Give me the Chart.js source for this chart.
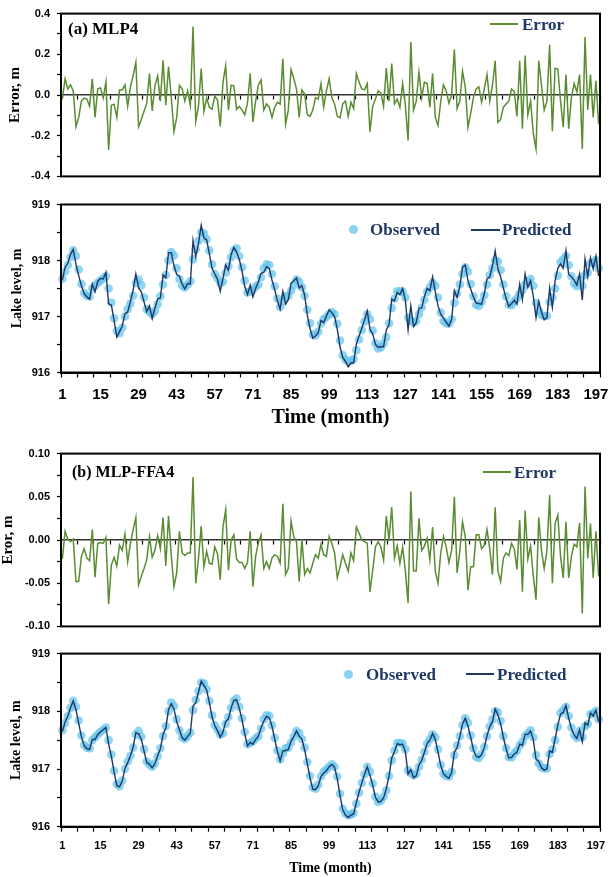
<!DOCTYPE html>
<html><head><meta charset="utf-8">
<script src="https://cdn.jsdelivr.net/npm/chart.js@4.4.1/dist/chart.umd.min.js"></script>
<style>
html,body{margin:0;padding:0;background:#fff;}
body{width:610px;height:877px;position:relative;overflow:hidden;}
canvas{position:absolute;left:0;}
.t{position:absolute;font-family:'Liberation Serif','Times New Roman',serif;font-weight:bold;white-space:nowrap;line-height:1;color:#000;}
.navy{color:#1f3864;}
.ln{position:absolute;height:2px;}
.dot{position:absolute;width:9px;height:9px;border-radius:50%;background:rgba(100,195,235,0.75);}
</style></head><body>
<canvas id="c1" width="610" height="190" style="top:0px"></canvas>
<canvas id="c2" width="610" height="250" style="top:190px"></canvas>
<canvas id="c3" width="610" height="200" style="top:440px"></canvas>
<canvas id="c4" width="610" height="237" style="top:640px"></canvas>

<div class="t" style="left:68px;top:19.5px;font-size:17px;">(a) MLP4</div>
<div class="ln" style="left:490px;top:23px;width:28px;background:#5a8c32;"></div>
<div class="t navy" style="left:522px;top:15.5px;font-size:17px;">Error</div>
<div class="dot" style="left:349px;top:225px;"></div>
<div class="t navy" style="left:370px;top:221px;font-size:17px;">Observed</div>
<div class="ln" style="left:471px;top:228.5px;width:29px;background:#1f3864;"></div>
<div class="t navy" style="left:502px;top:221px;font-size:17px;">Predicted</div>

<div class="t" style="left:72px;top:464px;font-size:16px;">(b) MLP-FFA4</div>
<div class="ln" style="left:483px;top:471px;width:28px;background:#5a8c32;"></div>
<div class="t navy" style="left:514px;top:464px;font-size:17px;">Error</div>
<div class="dot" style="left:344px;top:669.5px;"></div>
<div class="t navy" style="left:366px;top:665.5px;font-size:17px;">Observed</div>
<div class="ln" style="left:466px;top:673px;width:28px;background:#1f3864;"></div>
<div class="t navy" style="left:497px;top:665.5px;font-size:17px;">Predicted</div>

<script>
// ---------- DATA ----------
const MONTHS = Array.from({length: 198}, (_, i) => String(i + 1));
const X_TICK_LABELS = ['1','15','29','43','57','71','85','99','113','127','141','155','169','183','197'];
const LAKE_TICKS = [916, 917, 918, 919];
const ERR_A_TICKS = [-0.4, -0.2, 0.0, 0.2, 0.4];
const ERR_B_TICKS = [-0.10, -0.05, 0.00, 0.05, 0.10];

const OBSERVED = [
917.67,917.80,917.92,918.06,918.18,918.08,917.84,917.58,917.42,917.37,
917.36,917.50,917.55,917.60,917.64,917.68,917.72,917.50,917.25,916.97,
916.74,916.70,916.80,917.00,917.13,917.23,917.37,917.60,917.66,917.56,
917.34,917.13,917.08,917.04,917.10,917.22,917.36,917.57,917.74,918.00,
918.15,918.09,917.86,917.67,917.55,917.52,917.57,917.63,918.02,918.20,
918.35,918.50,918.48,918.38,918.18,917.93,917.76,917.68,917.60,917.62,
917.78,917.90,918.06,918.18,918.22,918.08,917.88,917.64,917.43,917.45,
917.48,917.53,917.57,917.70,917.86,917.93,917.92,917.76,917.54,917.32,
917.17,917.27,917.36,917.37,917.46,917.56,917.66,917.62,917.52,917.37,
917.12,916.88,916.68,916.66,916.73,916.87,916.95,916.99,917.04,917.08,
917.04,916.87,916.57,916.31,916.23,916.20,916.21,916.24,916.40,916.59,
916.76,916.91,917.04,916.95,916.75,916.52,916.43,916.45,916.52,916.63,
916.88,917.15,917.32,917.45,917.45,917.44,917.34,916.98,916.93,916.89,
916.92,917.04,917.16,917.30,917.44,917.52,917.60,917.55,917.34,917.07,
916.92,916.88,916.87,916.95,917.24,917.41,917.57,917.76,917.88,917.80,
917.58,917.36,917.21,917.19,917.26,917.38,917.57,917.74,917.86,918.00,
917.98,917.83,917.57,917.36,917.21,917.20,917.27,917.32,917.41,917.47,
917.57,917.62,917.67,917.55,917.24,917.10,917.03,917.01,917.01,917.26,
917.34,917.50,917.73,917.97,918.02,918.08,917.92,917.72,917.59,917.54,
917.66,917.55,917.74,917.78,917.95,917.96,918.01,917.86];

const PREDICTED_A = [
917.65,917.88,917.95,918.11,918.20,917.93,917.73,917.55,917.41,917.35,
917.31,917.58,917.44,917.63,917.68,917.67,917.79,917.23,917.20,916.93,
916.63,916.73,916.83,917.05,917.08,917.27,917.47,917.76,917.51,917.44,
917.26,917.09,917.19,916.96,917.15,917.31,917.33,917.74,917.69,918.14,
918.14,917.91,917.75,917.72,917.58,917.49,917.59,917.58,918.36,918.07,
918.30,918.63,918.40,918.37,918.12,917.86,917.76,917.66,917.45,917.68,
917.92,917.83,918.11,918.23,918.15,918.02,917.81,917.54,917.39,917.56,
917.35,917.50,917.62,917.77,917.79,917.89,917.86,917.65,917.48,917.28,
917.13,917.45,917.22,917.30,917.59,917.64,917.69,917.51,917.55,917.38,
917.02,916.78,916.61,916.65,916.71,916.93,916.89,917.01,917.12,917.07,
917.00,916.77,916.46,916.27,916.20,916.10,916.17,916.17,916.51,916.65,
916.79,916.94,917.10,916.77,916.69,916.50,916.45,916.46,916.46,916.76,
916.85,917.31,917.28,917.43,917.39,917.50,917.29,916.76,917.19,916.82,
916.89,917.15,917.15,917.36,917.50,917.46,917.71,917.44,917.19,917.04,
916.97,916.90,916.83,916.95,917.46,917.34,917.54,917.88,917.92,917.64,
917.49,917.35,917.24,917.23,917.22,917.41,917.67,917.71,917.91,918.17,
917.85,917.71,917.51,917.32,917.18,917.23,917.29,917.22,917.58,917.30,
917.76,917.52,917.64,917.36,916.98,917.27,917.08,916.94,916.98,917.51,
917.16,917.63,917.86,917.94,917.86,918.18,917.75,917.71,917.65,917.56,
917.76,917.29,918.03,917.71,918.05,917.85,918.08,917.72];

const PREDICTED_B = [
917.65,917.81,917.92,918.06,918.18,918.03,917.79,917.56,917.41,917.35,
917.34,917.51,917.51,917.60,917.64,917.68,917.72,917.43,917.22,916.95,
916.71,916.69,916.79,917.01,917.11,917.23,917.38,917.63,917.61,917.52,
917.31,917.11,917.08,917.02,917.09,917.23,917.35,917.60,917.71,918.03,
918.13,918.04,917.82,917.68,917.54,917.50,917.56,917.62,918.09,918.15,
918.33,918.52,918.45,918.37,918.15,917.90,917.75,917.66,917.55,917.64,
917.82,917.87,918.06,918.19,918.20,918.05,917.85,917.61,917.40,917.46,
917.43,917.51,917.57,917.71,917.83,917.91,917.89,917.74,917.52,917.30,
917.14,917.31,917.32,917.34,917.48,917.56,917.66,917.57,917.52,917.33,
917.09,916.84,916.65,916.64,916.71,916.87,916.93,916.97,917.04,917.08,
917.03,916.83,916.54,916.29,916.20,916.16,916.20,916.22,916.42,916.60,
916.76,916.91,917.04,916.89,916.72,916.51,916.43,916.44,916.50,916.66,
916.88,917.19,917.30,917.44,917.42,917.43,917.30,916.91,916.99,916.85,
916.88,917.07,917.15,917.29,917.44,917.50,917.62,917.51,917.29,917.06,
916.92,916.87,916.84,916.94,917.29,917.37,917.56,917.78,917.88,917.74,
917.55,917.33,917.22,917.20,917.25,917.37,917.58,917.73,917.82,918.04,
917.94,917.78,917.55,917.35,917.19,917.20,917.26,917.29,917.43,917.41,
917.60,917.60,917.66,917.51,917.17,917.13,917.02,916.98,917.00,917.31,
917.29,917.52,917.76,917.95,917.98,918.10,917.88,917.70,917.59,917.53,
917.68,917.47,917.80,917.76,917.97,917.92,918.02,917.82];

const ERROR_A = [
-0.02,0.08,0.03,0.05,0.02,-0.155,-0.11,-0.03,-0.015,-0.02,
-0.055,0.08,-0.11,0.03,0.035,-0.015,0.065,-0.27,-0.05,-0.045,
-0.11,0.025,0.025,0.05,-0.055,0.04,0.095,0.16,-0.155,-0.12,
-0.08,-0.04,0.105,-0.078,0.045,0.093,-0.03,0.17,-0.05,0.14,
-0.01,-0.18,-0.11,0.047,0.03,-0.03,0.02,-0.05,0.336,-0.13,
-0.055,0.13,-0.08,-0.015,-0.06,-0.07,-0.005,-0.025,-0.155,0.063,
0.143,-0.074,0.048,0.045,-0.07,-0.056,-0.074,-0.097,-0.04,0.106,
-0.132,-0.03,0.048,0.074,-0.074,-0.044,-0.06,-0.11,-0.06,-0.036,
-0.044,0.178,-0.143,-0.074,0.125,0.082,0.03,-0.11,0.025,0.005,
-0.097,-0.105,-0.074,-0.013,-0.02,0.056,-0.06,0.02,0.08,-0.013,
-0.044,-0.105,-0.112,-0.044,-0.03,-0.105,-0.036,-0.066,0.105,0.063,
0.03,0.025,0.056,-0.18,-0.056,-0.02,0.02,0.01,-0.056,0.132,
-0.03,0.155,-0.044,-0.02,-0.06,0.056,-0.05,-0.224,0.26,-0.074,
-0.03,0.112,-0.013,0.063,0.056,-0.06,0.106,-0.11,-0.15,-0.03,
0.05,0.02,-0.04,0.0,0.224,-0.066,-0.03,0.117,0.04,-0.158,
-0.09,-0.013,0.03,0.04,-0.036,0.03,0.1,-0.03,0.048,0.168,
-0.135,-0.12,-0.06,-0.044,-0.03,0.03,0.017,-0.105,0.168,-0.166,
0.194,-0.097,-0.03,-0.19,-0.265,0.168,0.048,-0.074,-0.03,0.247,
-0.178,0.132,0.128,-0.03,-0.158,0.1,-0.166,-0.013,0.056,0.015,
0.1,-0.265,0.285,-0.074,0.1,-0.11,0.07,-0.143];

const ERROR_B = [
-0.022,0.01,0.001,-0.002,0.001,-0.048,-0.048,-0.019,-0.01,-0.021,
-0.024,0.012,-0.043,-0.004,-0.003,-0.004,0.003,-0.074,-0.029,-0.02,
-0.03,-0.006,-0.012,0.007,-0.025,-0.004,0.012,0.026,-0.052,-0.042,
-0.033,-0.023,0.004,-0.02,-0.012,0.005,-0.01,0.026,-0.03,0.028,
-0.017,-0.054,-0.038,0.01,-0.015,-0.018,-0.015,-0.015,0.073,-0.05,
-0.022,0.016,-0.031,-0.013,-0.027,-0.028,-0.008,-0.016,-0.046,0.015,
0.035,-0.035,0,0.006,-0.022,-0.026,-0.026,-0.033,-0.026,0.01,
-0.054,-0.019,-0.003,0.006,-0.033,-0.025,-0.033,-0.021,-0.017,-0.019,
-0.027,0.042,-0.04,-0.033,0.022,0.004,-0.002,-0.048,0.001,-0.04,
-0.033,-0.038,-0.027,-0.017,-0.021,-0.005,-0.017,-0.019,0.004,-0.004,
-0.015,-0.044,-0.031,-0.017,-0.027,-0.036,-0.015,-0.024,0.015,0.008,
0,-0.002,-0.004,-0.06,-0.035,-0.008,-0.002,-0.008,-0.023,0.028,
0,0.038,-0.021,-0.007,-0.027,-0.008,-0.036,-0.073,0.056,-0.036,
-0.036,0.025,-0.012,-0.007,0.002,-0.023,0.015,-0.036,-0.05,-0.015,
0.004,-0.008,-0.026,-0.012,0.05,-0.038,-0.013,0.021,0.004,-0.058,
-0.031,-0.031,0.006,0.006,-0.01,-0.006,0.012,-0.01,-0.04,0.038,
-0.036,-0.048,-0.021,-0.015,-0.018,-0.004,-0.01,-0.034,0.023,-0.06,
0.034,-0.022,-0.007,-0.042,-0.069,0.026,-0.012,-0.033,-0.013,0.052,
-0.05,0.019,0.029,-0.019,-0.044,0.021,-0.044,-0.019,-0.005,-0.008,
0.02,-0.085,0.062,-0.021,0.019,-0.044,0.01,-0.042];

// ---------- STYLE ----------
const GREEN = '#5a8c32';
const NAVY = '#1f3864';
const BLUE = 'rgba(100,195,235,0.72)';
const SANS = "'Liberation Sans', Arial, sans-serif";
const SERIF = "'Liberation Serif', 'Times New Roman', serif";

Chart.defaults.font.family = SANS;
Chart.defaults.font.weight = 'bold';
Chart.defaults.color = '#000';

const boxPlugin = {
  id: 'box',
  afterDatasetsDraw(chart) {
    const {ctx, chartArea: a} = chart;
    ctx.save();
    ctx.strokeStyle = '#000';
    ctx.lineWidth = 2;
    ctx.strokeRect(a.left, a.top, a.right - a.left, a.bottom - a.top);
    ctx.restore();
  }
};

const markColor = c => (c.index === undefined || c.index % 6 === 0) ? '#000' : 'rgba(0,0,0,0)';

function isTick(v, list) {
  return list.some(t => Math.abs(t - v) < 1e-6);
}

function yAxis(min, max, step, list, digits, title, titleSize, titlePad) {
  return {
    min, max,
    afterFit: s => { s.width = 61; },
    ticks: {
      stepSize: step, padding: 7, color: '#000',
      font: {family: SANS, size: 11, weight: 'bold'},
      callback: v => isTick(v, list) ? Number(v).toFixed(digits) : ''
    },
    grid: {drawOnChartArea: false, tickLength: 4, tickWidth: 1.2, tickColor: '#000'},
    border: {color: '#000', width: 2},
    title: {display: true, text: title, color: '#000',
      font: {family: SERIF, size: titleSize, weight: 'bold', lineHeight: 1},
      padding: {top: titlePad, bottom: 0}}
  };
}

function errorChart(id, values, min, max, step, list, digits, title, titlePad, pad) {
  return new Chart(document.getElementById(id), {
    type: 'line',
    data: {labels: MONTHS, datasets: [{label: 'Error', data: values, borderColor: GREEN,
      borderWidth: 1.5, pointRadius: 0, tension: 0, fill: false}]},
    options: {
      responsive: false, animation: false, devicePixelRatio: 1,
      layout: {padding: pad},
      plugins: {legend: {display: false}, tooltip: {enabled: false}},
      scales: {
        x: {type: 'category', offset: true, position: {y: 0},
          grid: {offset: true, drawOnChartArea: false, drawTicks: true, tickLength: 4, tickWidth: 1.2, tickColor: markColor},
          border: {display: true, color: '#333', width: 1.5},
          ticks: {autoSkip: false, maxRotation: 0, minRotation: 0, callback: () => '', font: {size: 1}}},
        y: yAxis(min, max, step, list, digits, title, 15, titlePad)
      }
    },
    plugins: [boxPlugin]
  });
}

function lakeChart(id, predicted, pad, xHeight, tickFont, tickPad, titleFont, titleBottom, yTitlePad) {
  return new Chart(document.getElementById(id), {
    type: 'line',
    data: {labels: MONTHS, datasets: [
      {label: 'Predicted', data: predicted, borderColor: NAVY, borderWidth: 1.4,
        pointRadius: 0, tension: 0, fill: false, order: 0},
      {label: 'Observed', data: OBSERVED, showLine: false, pointRadius: 4.3,
        pointBackgroundColor: BLUE, pointBorderWidth: 0, borderColor: 'rgba(0,0,0,0)', order: 1, clip: false}
    ]},
    options: {
      responsive: false, animation: false, devicePixelRatio: 1,
      layout: {padding: pad},
      plugins: {legend: {display: false}, tooltip: {enabled: false}},
      scales: {
        x: {type: 'category', offset: true, position: 'bottom',
          afterFit: s => { s.height = xHeight; },
          grid: {offset: true, drawOnChartArea: false, tickLength: 5, tickWidth: 1.2, tickColor: markColor},
          border: {color: '#000', width: 2},
          ticks: {autoSkip: false, maxRotation: 0, minRotation: 0, padding: tickPad, color: '#000',
            font: {family: SANS, size: tickFont, weight: 'bold'},
            callback: (v, i) => X_TICK_LABELS.includes(MONTHS[i]) ? MONTHS[i] : ''},
          title: {display: true, text: 'Time (month)', color: '#000',
            font: {family: SERIF, size: titleFont, weight: 'bold', lineHeight: 1},
            padding: {top: 0, bottom: titleBottom}}},
        y: yAxis(916, 919, 0.5, LAKE_TICKS, 0, 'Lake level, m', 14, yTitlePad)
      }
    },
    plugins: [boxPlugin]
  });
}

errorChart('c1', ERROR_A, -0.4, 0.4, 0.1, ERR_A_TICKS, 1, 'Error, m', 8, {top: 7, right: 10, bottom: 9, left: 0});
lakeChart('c2', PREDICTED_A, {top: 14.5, right: 10, bottom: 0, left: 0}, 67.5, 15, 8, 20, 12.5, 10);
errorChart('c3', ERROR_B, -0.1, 0.1, 0.025, ERR_B_TICKS, 2, 'Eror, m', 0.5, {top: 13.5, right: 10, bottom: 13.3, left: 0});
lakeChart('c4', PREDICTED_B, {top: 13.3, right: 10, bottom: 0, left: 0}, 50.3, 11, 8, 14, 2, 9.7);
</script>
</body></html>
